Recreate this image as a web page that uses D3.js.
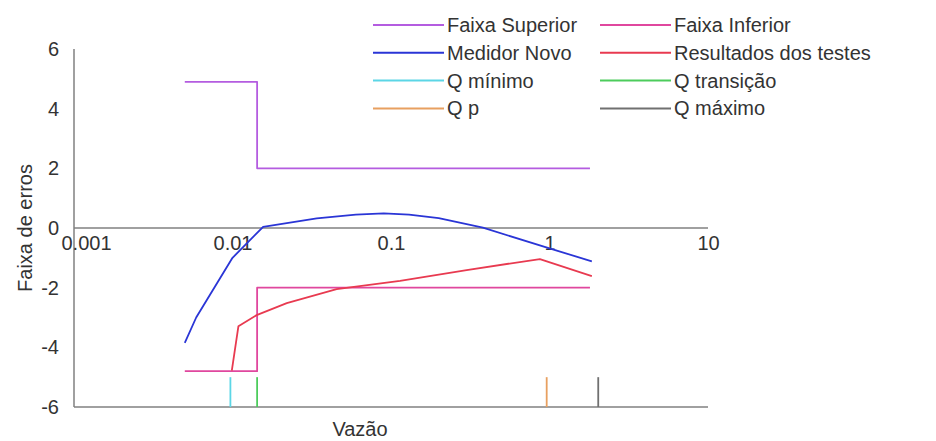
<!DOCTYPE html>
<head>
<meta charset="utf-8">
<style>
body { margin: 0; background: #fff; }
svg text { font-family: "Liberation Sans", Arial, sans-serif; fill: #333; }
.axis path, .axis line { display: none; }
.axis text { font-size: 20px; }
.legend text { font-size: 20px; }
</style>
</head>
<body>
<script src="https://cdn.jsdelivr.net/npm/d3@7"></script>
<script type="text/javascript">

var width = 936;
var height = 441;

// limits (faixas)
var faixaSupX = [0.005, 0.0143, 0.0143, 1.8];
var faixaSupY = [4.9, 4.9, 2, 2];
var faixaInfX = [0.005, 0.0143, 0.0143, 1.8];
var faixaInfY = [-4.8, -4.8, -2, -2];

// new meter curve
var medidorX = [0.005, 0.0059, 0.01, 0.0156, 0.034, 0.06, 0.09, 0.13, 0.2, 0.38, 1.0, 1.85];
var medidorY = [-3.85, -3.0, -1.0, 0.04, 0.32, 0.45, 0.49, 0.45, 0.33, 0.01, -0.68, -1.12];

// test results
var testesX = [0.0099, 0.0109, 0.0142, 0.022, 0.0454, 0.114, 0.30, 0.87, 1.85];
var testesY = [-4.78, -3.29, -2.92, -2.52, -2.05, -1.77, -1.41, -1.04, -1.61];

// flow markers
var qNomes = ["Q mínimo", "Q transição", "Q p", "Q máximo"];
var qValores = [0.0097, 0.0143, 0.96, 2.03];
var qCores = ["#5cd6e6", "#4ccc5c", "#e8a060", "#707070"];

var xTicks = [0.001, 0.01, 0.1, 1, 10];
var xTickLabels = ["0.001", "0.01", "0.1", "1", "10"];
var yTicks = [-6, -4, -2, 0, 2, 4, 6];

var legendNames = ["Faixa Superior", "Faixa Inferior", "Medidor Novo", "Resultados dos testes",
                   "Q mínimo", "Q transição", "Q p", "Q máximo"];
var legendColors = ["#b45ce0", "#e0479e", "#2a35d6", "#e83a50",
                    "#5cd6e6", "#4ccc5c", "#e8a060", "#707070"];

var svg = d3.select("body").append("svg")
    .attr("width", width)
    .attr("height", height);

var x = d3.scaleLog().domain([0.001, 10]).range([74, 708]);
var y = d3.scaleLinear().domain([-6, 6]).range([407, 49]);

// axes lines
svg.append("line").attr("x1", x(0.001)).attr("x2", x(0.001)).attr("y1", y(6)).attr("y2", y(-6))
   .attr("stroke", "#808080").attr("stroke-width", 1.5);
svg.append("line").attr("x1", x(0.001)).attr("x2", x(10)).attr("y1", y(0)).attr("y2", y(0))
   .attr("stroke", "#808080").attr("stroke-width", 1.5);
svg.append("line").attr("x1", x(0.001)).attr("x2", x(10)).attr("y1", y(-6)).attr("y2", y(-6))
   .attr("stroke", "#808080").attr("stroke-width", 1.5);

var xAxis = d3.axisBottom(x).tickValues(xTicks).tickSize(0).tickPadding(8)
    .tickFormat(function(d, i) { return xTickLabels[i]; });
var gx = svg.append("g").attr("class", "axis")
   .attr("transform", "translate(0," + y(0) + ")")
   .call(xAxis);
// first label sits to the right of the y axis, like the original
gx.selectAll(".tick text").filter(function(d) { return d === 0.001; })
   .attr("dx", 12);

var yAxis = d3.axisLeft(y).tickValues(yTicks).tickSize(0).tickPadding(15)
    .tickFormat(function(d) { return String(d); });
svg.append("g").attr("class", "axis")
   .attr("transform", "translate(" + x(0.001) + ",0)")
   .call(yAxis);

svg.selectAll(".axis .domain").remove();

svg.append("text")
   .attr("transform", "translate(32," + y(0) + ") rotate(-90)")
   .attr("text-anchor", "middle")
   .style("font-size", "20px")
   .text("Faixa de erros");

svg.append("text")
   .attr("x", 360).attr("y", 436)
   .attr("text-anchor", "middle")
   .style("font-size", "20px")
   .text("Vazão");

var line = d3.line()
    .x(function(d) { return x(d[0]); })
    .y(function(d) { return y(d[1]); });

function drawSeries(xs, ys, color) {
  svg.append("path")
     .datum(xs.map(function(v, i) { return [v, ys[i]]; }))
     .attr("d", line)
     .attr("fill", "none")
     .attr("stroke", color)
     .attr("stroke-width", 1.8)
     .attr("stroke-linejoin", "round");
}

drawSeries(faixaSupX, faixaSupY, legendColors[0]);
drawSeries(faixaInfX, faixaInfY, legendColors[1]);
drawSeries(medidorX, medidorY, legendColors[2]);
drawSeries(testesX, testesY, legendColors[3]);

svg.selectAll(".qline")
   .data(qValores)
   .enter()
   .append("line")
   .attr("class", "qline")
   .attr("x1", function(d) { return x(d); })
   .attr("x2", function(d) { return x(d); })
   .attr("y1", y(-6))
   .attr("y2", y(-5))
   .attr("stroke", function(d, i) { return qCores[i]; })
   .attr("stroke-width", 1.8);

// legend, two columns
var legend = svg.append("g").attr("class", "legend")
   .selectAll("g")
   .data(legendNames)
   .enter()
   .append("g")
   .attr("transform", function(d, i) {
      var col = i % 2, row = Math.floor(i / 2);
      return "translate(" + (col === 0 ? 373 : 600) + "," + (25 + row * 27.8) + ")";
   });

legend.append("line")
   .attr("x1", 0).attr("x2", 71)
   .attr("y1", 0).attr("y2", 0)
   .attr("stroke", function(d, i) { return legendColors[i]; })
   .attr("stroke-width", 2);

legend.append("text")
   .attr("x", 74)
   .attr("dy", ".35em")
   .text(function(d) { return d; });

</script>
</body>
